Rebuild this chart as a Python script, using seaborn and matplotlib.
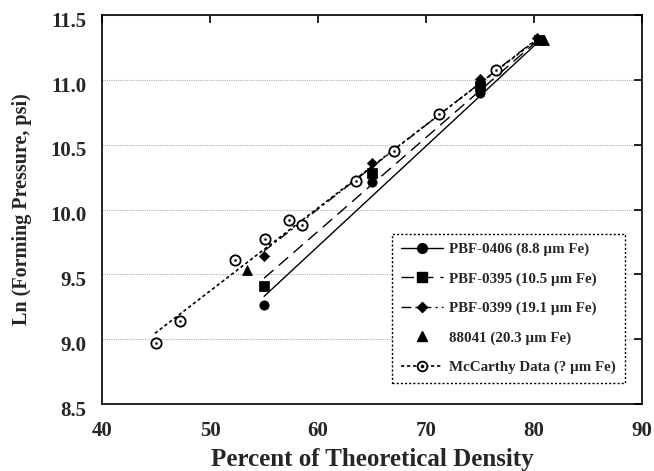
import matplotlib
matplotlib.use("Agg")
import matplotlib.pyplot as plt
import seaborn as sns
import pandas as pd
from matplotlib.lines import Line2D
from matplotlib.transforms import ScaledTranslation

# measured points (percent of theoretical density, ln pressure)
pbf0406_x = [55.0, 65.0, 75.0, 80.6]
pbf0406_y = [9.26, 10.21, 10.90, 11.31]
pbf0395_x = [55.0, 65.0, 75.0, 80.4]
pbf0395_y = [9.41, 10.28, 10.95, 11.31]
pbf0399_x = [55.0, 65.0, 75.0, 80.3]
pbf0399_y = [9.64, 10.36, 11.01, 11.32]
s88041_x = [53.4, 80.9]
s88041_y = [9.53, 11.31]
mccarthy_x = [45.0, 47.2, 52.3, 55.1, 57.3, 58.5, 63.5, 67.0, 71.2, 76.5]
mccarthy_y = [8.97, 9.14, 9.61, 9.77, 9.92, 9.88, 10.22, 10.45, 10.74, 11.08]

# trend line end points
fit0406_x = [55.0, 80.6]
fit0406_y = [9.33, 11.31]
fit0395_x = [55.0, 80.4]
fit0395_y = [9.47, 11.31]
fit0399_x = [55.0, 80.3]
fit0399_y = [9.68, 11.32]
fitmc_x = [44.9, 80.4]
fitmc_y = [9.045, 11.32]

labels = [
    "PBF-0406 (8.8 \u00b5m Fe)",
    "PBF-0395 (10.5 \u00b5m Fe)",
    "PBF-0399 (19.1 \u00b5m Fe)",
    "88041 (20.3 \u00b5m Fe)",
    "McCarthy Data (? \u00b5m Fe)",
]

sns.set_style("white")
plt.rcParams["font.family"] = ["Liberation Serif", "DejaVu Serif"]
plt.rcParams["font.weight"] = "bold"

fig, ax = plt.subplots(figsize=(6.54, 4.71), dpi=100)
fig.subplots_adjust(left=0.156, right=0.982, bottom=0.1423, top=0.968)

ls_0406 = "-"
ls_0395 = (0, (9, 5))
ls_0399 = (0, (7, 3, 1.5, 3))
ls_mc = (0, (2, 1.6))

# trend lines
sns.lineplot(x=fit0406_x, y=fit0406_y, ax=ax, color="black", lw=1.0, linestyle=ls_0406)
sns.lineplot(x=fit0395_x, y=fit0395_y, ax=ax, color="black", lw=1.0, linestyle=ls_0395)
sns.lineplot(x=fit0399_x, y=fit0399_y, ax=ax, color="black", lw=1.0, linestyle=ls_0399)
sns.lineplot(x=fitmc_x, y=fitmc_y, ax=ax, color="black", lw=1.2, linestyle=ls_mc)

# markers
sns.scatterplot(x=pbf0406_x, y=pbf0406_y, ax=ax, marker="o", s=45, color="black", edgecolor="black")
sns.scatterplot(x=pbf0395_x, y=pbf0395_y, ax=ax, marker="s", s=45, color="black", edgecolor="black")
sns.scatterplot(x=pbf0399_x, y=pbf0399_y, ax=ax, marker="D", s=28, color="black", edgecolor="black")
sns.scatterplot(x=s88041_x, y=s88041_y, ax=ax, marker="^", s=50, color="black", edgecolor="black")
sns.scatterplot(x=mccarthy_x, y=mccarthy_y, ax=ax, marker="o", s=55, color="white",
                edgecolor="black", linewidth=1.3, zorder=4)
sns.scatterplot(x=mccarthy_x, y=mccarthy_y, ax=ax, marker="o", s=3, color="black",
                edgecolor="black", zorder=5)

ax.set_xlim(40, 90)
ax.set_ylim(8.5, 11.5)
ax.set_xticks([40, 50, 60, 70, 80, 90])
ax.set_yticks([8.5, 9.0, 9.5, 10.0, 10.5, 11.0, 11.5])
ax.set_yticklabels(["8.5", "9.0", "9.5", "10.0", "10.5", "11.0", "11.5"])
ax.grid(axis="y", color="#b0b0b0", linestyle=(0, (1, 1)), linewidth=0.8)
ax.set_axisbelow(True)

for sp in ax.spines.values():
    sp.set_color("black")
    sp.set_linewidth(1.2)

ax.tick_params(axis="both", direction="in", length=6, width=1.2, color="black",
               labelsize=15, top=True, right=True, labeltop=False, labelright=False)
ax.tick_params(axis="x", pad=12)
ax.tick_params(axis="y", pad=11)
off = ScaledTranslation(0, -3 / 72, fig.dpi_scale_trans)
for t in ax.get_yticklabels():
    t.set_transform(t.get_transform() + off)

ax.set_xlabel("Percent of Theoretical Density", fontsize=18, fontweight="bold")
ax.set_ylabel("Ln (Forming Pressure, psi)", fontsize=14.5, fontweight="bold")
ax.xaxis.set_label_coords(0.5, -0.112)
ax.yaxis.set_label_coords(-0.13, 0.5)

# legend
mc_open = Line2D([], [], color="black", lw=1.2, linestyle=ls_mc, marker="o",
                 markersize=7, markerfacecolor="white", markeredgecolor="black", markeredgewidth=1.3)
mc_dot = Line2D([], [], linestyle="none", marker="o", markersize=1.6, color="black")
handles = [
    Line2D([], [], color="black", lw=1.0, linestyle=ls_0406, marker="o", markersize=7),
    Line2D([], [], color="black", lw=1.0, linestyle=ls_0395, marker="s", markersize=7),
    Line2D([], [], color="black", lw=1.0, linestyle=ls_0399, marker="D", markersize=5),
    Line2D([], [], color="black", linestyle="none", marker="^", markersize=7),
    (mc_open, mc_dot),
]
leg = ax.legend(handles, labels, loc="lower left", bbox_to_anchor=(0.537, 0.054),
                prop={"size": 10.8, "weight": "bold"}, handlelength=2.8,
                handletextpad=0.4, labelspacing=1.05, borderpad=0.6,
                fancybox=False, framealpha=1, borderaxespad=0)
frame = leg.get_frame()
frame.set_edgecolor("black")
frame.set_linestyle((0, (1.5, 1.5)))
frame.set_linewidth(1.0)

plt.savefig("out.png", dpi=100)
